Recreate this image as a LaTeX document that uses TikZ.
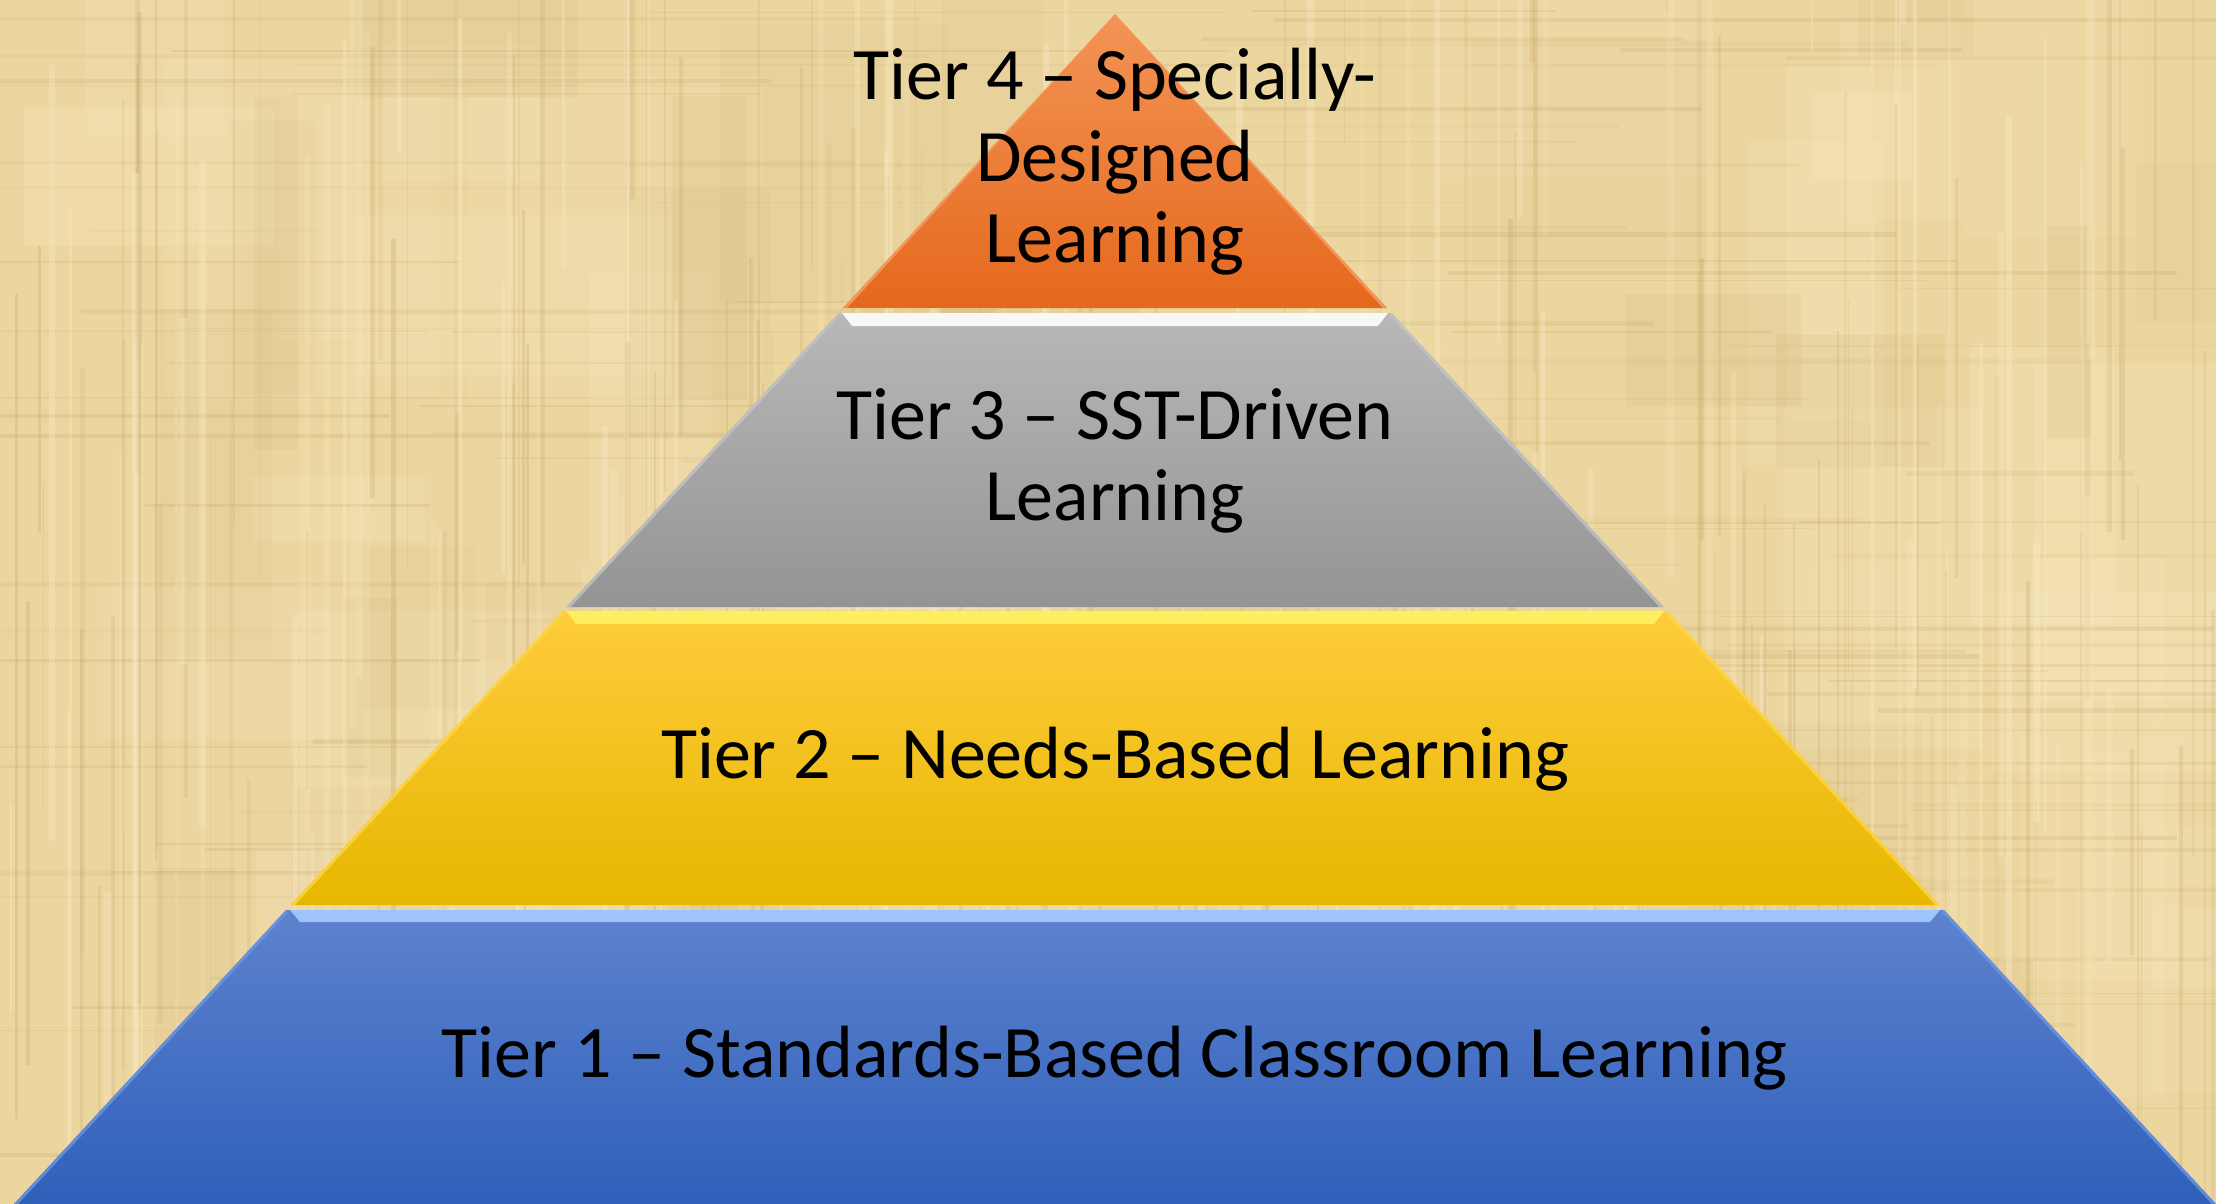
\documentclass[tikz,border=0pt]{standalone}
\usepackage{fontspec}
\setmainfont{Carlito}
\definecolor{bgbase}{RGB}{236,214,160}
\definecolor{texdark}{RGB}{196,168,104}
\definecolor{texlight}{RGB}{250,236,198}
\definecolor{t4top}{RGB}{243,148,86}
\definecolor{t4bot}{RGB}{229,104,28}
\definecolor{t4edge}{RGB}{248,160,104}
\definecolor{t3top}{RGB}{184,184,184}
\definecolor{t3bot}{RGB}{148,148,148}
\definecolor{t3edge}{RGB}{196,196,196}
\definecolor{t2top}{RGB}{255,204,60}
\definecolor{t2mid}{RGB}{255,197,0}
\definecolor{t2bot}{RGB}{231,183,0}
\definecolor{t2edge}{RGB}{255,214,70}
\definecolor{t2band}{RGB}{255,240,96}
\definecolor{t1top}{RGB}{94,130,206}
\definecolor{t1bot}{RGB}{46,96,186}
\definecolor{t1edge}{RGB}{110,150,226}
\definecolor{t1band}{RGB}{166,204,255}
\begin{document}
\begin{tikzpicture}[x=0.5pt,y=-0.5pt,
  tiertext/.style={font=\fontsize{37}{40.5}\selectfont, anchor=base, inner sep=0pt, text=black},
  edgeline/.style={line width=3pt, opacity=0.8}]
\useasboundingbox (0,0) rectangle (2216,1204);
% background parchment
\fill[bgbase] (0,0) rectangle (2216,1204);
\begin{scope}
\clip (0,0) rectangle (2216,1204);
\pgfmathsetseed{12}
\foreach \i in {1,...,45}{
  \pgfmathsetmacro\xx{2216*rnd}
  \pgfmathsetmacro\yy{1204*rnd-150}
  \pgfmathsetmacro\ww{60+260*rnd}
  \pgfmathsetmacro\hh{60+300*rnd}
  \pgfmathsetmacro\oo{0.10+0.12*rnd}
  \fill[texlight, opacity=\oo] (\xx,\yy) rectangle ++(\ww,\hh);
}
\foreach \i in {1,...,35}{
  \pgfmathsetmacro\xx{2216*rnd}
  \pgfmathsetmacro\yy{1204*rnd-150}
  \pgfmathsetmacro\ww{40+200*rnd}
  \pgfmathsetmacro\hh{60+300*rnd}
  \pgfmathsetmacro\oo{0.06+0.08*rnd}
  \fill[texdark, opacity=\oo] (\xx,\yy) rectangle ++(\ww,\hh);
}
\foreach \i in {1,...,160}{
  \pgfmathsetmacro\xx{2216*rnd}
  \pgfmathsetmacro\yy{1204*rnd-300}
  \pgfmathsetmacro\ll{200+900*rnd}
  \pgfmathsetmacro\ww{1+4*rnd}
  \pgfmathsetmacro\oo{0.10+0.20*rnd}
  \draw[texdark, line width=\ww*0.5pt, opacity=\oo] (\xx,\yy) -- ++(0,\ll);
}
\foreach \i in {1,...,140}{
  \pgfmathsetmacro\xx{2216*rnd-300}
  \pgfmathsetmacro\yy{1204*rnd}
  \pgfmathsetmacro\ll{200+1000*rnd}
  \pgfmathsetmacro\ww{1+4*rnd}
  \pgfmathsetmacro\oo{0.08+0.18*rnd}
  \draw[texdark, line width=\ww*0.5pt, opacity=\oo] (\xx,\yy) -- ++(\ll,0);
}
\foreach \i in {1,...,120}{
  \pgfmathsetmacro\xx{2216*rnd}
  \pgfmathsetmacro\yy{1204*rnd-300}
  \pgfmathsetmacro\ll{200+900*rnd}
  \pgfmathsetmacro\ww{2+6*rnd}
  \pgfmathsetmacro\oo{0.15+0.25*rnd}
  \draw[texlight, line width=\ww*0.5pt, opacity=\oo] (\xx,\yy) -- ++(0,\ll);
}
\end{scope}

% Tier 4 (orange)
\path[top color=t4top, bottom color=t4bot] (1115,14) -- (1387,308) -- (843,308) -- cycle;
\begin{scope}
\clip (1115,14) -- (1387,308) -- (843,308) -- cycle;
\draw[t4edge, edgeline] (1115,10) -- (1387,308) (1115,10) -- (843,308);
\end{scope}

% Tier 3 (gray)
\path[top color=t3top, bottom color=t3bot] (838.4,313) -- (1391.6,313) -- (1663.6,607) -- (566.4,607) -- cycle;
\begin{scope}
\clip (838.4,313) -- (1391.6,313) -- (1663.6,607) -- (566.4,607) -- cycle;
\draw[t3edge, edgeline] (838.4,313) -- (566.4,607) (1391.6,313) -- (1663.6,607);
\fill[white, opacity=0.9] (842,313) -- (1388,313) -- (1378,326) -- (852,326) -- cycle;
\end{scope}

% Tier 2 (yellow)
\path[top color=t2top, middle color=t2mid, bottom color=t2bot] (562.6,611) -- (1667.4,611) -- (1939.4,905) -- (290.6,905) -- cycle;
\begin{scope}
\clip (562.6,611) -- (1667.4,611) -- (1939.4,905) -- (290.6,905) -- cycle;
\draw[t2edge, edgeline] (562.6,611) -- (290.6,905) (1667.4,611) -- (1939.4,905);
\fill[t2band, opacity=0.95] (566,611) -- (1664,611) -- (1654,624) -- (576,624) -- cycle;
\end{scope}

% Tier 1 (blue)
\path[top color=t1top, bottom color=t1bot] (286,910) -- (1944,910) -- (2216,1204) -- (14,1204) -- cycle;
\begin{scope}
\clip (286,910) -- (1944,910) -- (2216,1204) -- (14,1204) -- cycle;
\draw[t1edge, edgeline] (286,910) -- (14,1204) (1944,910) -- (2216,1204);
\fill[t1band, opacity=0.9] (290,910) -- (1940,910) -- (1930,922) -- (300,922) -- cycle;
\end{scope}

% Texts
\node[tiertext] (t4a) at (1115,100) {Tier 4 – Specially-};
\node[tiertext] (t4b) at (1115,181) {Designed};
\node[tiertext] (t4c) at (1115,262) {Learning};
\node[tiertext] (t3a) at (1115,439) {Tier 3 – SST-Driven};
\node[tiertext] (t3b) at (1115,520) {Learning};
\node[tiertext] (t2) at (1115,778) {Tier 2 – Needs-Based Learning};
\node[tiertext] (t1) at (1115,1077) {Tier 1 – Standards-Based Classroom Learning};
\end{tikzpicture}
\end{document}
